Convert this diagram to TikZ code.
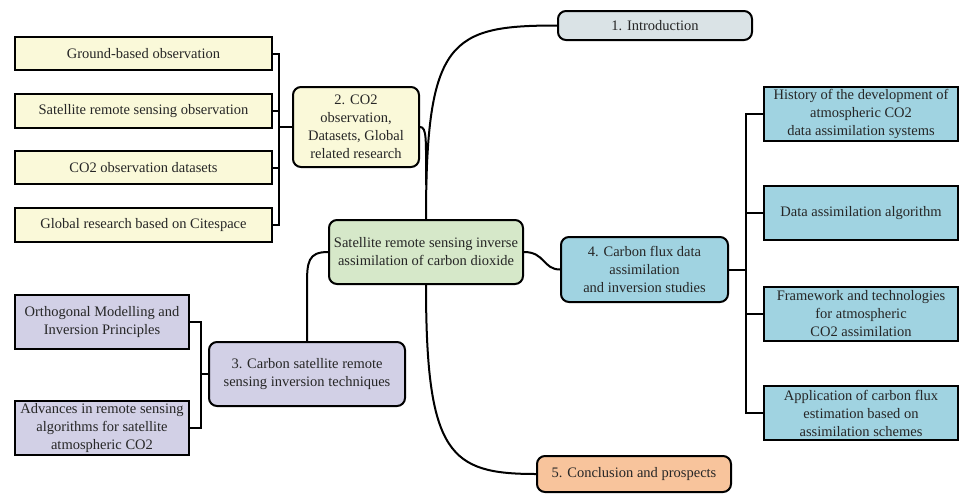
\documentclass[tikz,border=0pt]{standalone}
\usepackage{fontspec}
\setmainfont{Liberation Serif}
\begin{document}
\definecolor{introfill}{HTML}{DAE3E6}
\definecolor{yelfill}{HTML}{FAF9D9}
\definecolor{greenfill}{HTML}{D6E8C9}
\definecolor{bluefill}{HTML}{A0D3E1}
\definecolor{lavfill}{HTML}{D2D0E6}
\definecolor{peachfill}{HTML}{F8C49C}
\definecolor{inkgray}{HTML}{262626}
\begin{tikzpicture}[x=1pt,y=-1pt,
  box/.style={draw=black, line width=2pt, inner sep=0pt, align=center,
    text=inkgray, font=\fontsize{14.5}{18}\selectfont},
  topic/.style={box, rounded corners=8pt},
  leaf/.style={box},
  link/.style={draw=black, line width=2pt}]
\useasboundingbox (0,0) rectangle (959,493);

% main topic and chapter nodes
\node[topic, fill=greenfill, minimum width=194pt, minimum height=64pt] (center) at (426,252)
  {Satellite remote sensing inverse\\assimilation of carbon dioxide};
\node[topic, fill=introfill, minimum width=194pt, minimum height=29pt] (intro) at (655,25.5)
  {1. Introduction};
\node[topic, fill=yelfill, minimum width=126pt, minimum height=80pt] (obs) at (356,127)
  {2. CO2\\observation,\\Datasets, Global\\related research};
\node[topic, fill=lavfill, minimum width=196pt, minimum height=64pt] (tech) at (307,374)
  {3. Carbon satellite remote\\sensing inversion techniques};
\node[topic, fill=bluefill, minimum width=167pt, minimum height=65pt] (flux) at (644.5,269.5)
  {4. Carbon flux data\\assimilation\\and inversion studies};
\node[topic, fill=peachfill, minimum width=194pt, minimum height=36pt] (concl) at (634,474)
  {5. Conclusion and prospects};

% chapter 2 sections
\node[leaf, fill=yelfill, minimum width=257pt, minimum height=33pt] (y1) at (143.5,53.5)
  {Ground-based observation};
\node[leaf, fill=yelfill, minimum width=257pt, minimum height=34pt] (y2) at (143.5,111)
  {Satellite remote sensing observation};
\node[leaf, fill=yelfill, minimum width=257pt, minimum height=33pt] (y3) at (143.5,167.5)
  {CO2 observation datasets};
\node[leaf, fill=yelfill, minimum width=257pt, minimum height=34pt] (y4) at (143.5,225)
  {Global research based on Citespace};

% chapter 3 sections
\node[leaf, fill=lavfill, minimum width=174pt, minimum height=54pt] (p1) at (102,322)
  {Orthogonal Modelling and\\Inversion Principles};
\node[leaf, fill=lavfill, minimum width=174pt, minimum height=54pt] (p2) at (102,428)
  {Advances in remote sensing\\algorithms for satellite\\atmospheric CO2};

% chapter 4 sections
\node[leaf, fill=bluefill, minimum width=194pt, minimum height=54pt] (b1) at (861,114)
  {History of the development of\\atmospheric CO2\\data assimilation systems};
\node[leaf, fill=bluefill, minimum width=194pt, minimum height=54pt] (b2) at (861,213)
  {Data assimilation algorithm};
\node[leaf, fill=bluefill, minimum width=194pt, minimum height=54pt] (b3) at (861,314)
  {Framework and technologies\\for atmospheric\\CO2 assimilation};
\node[leaf, fill=bluefill, minimum width=194pt, minimum height=54pt] (b4) at (861,413)
  {Application of carbon flux\\estimation based on\\assimilation schemes};

% bracket junctions
\coordinate (jy) at (279,127);
\coordinate (jp) at (201,374);
\coordinate (jb) at (746,269.5);

% curved branches from the main topic
\draw[link] (center.north) .. controls (426,40) and (450,25.5) .. (intro.west);
\draw[link] (obs.east) .. controls (427,127) and (426,140) .. (426,185);
\draw[link] (center.south) .. controls (426,455) and (450,474) .. (concl.west);
\draw[link] (center.west) .. controls (308,252) and (307,262) .. (307,285) -- (tech.north);
\draw[link] (center.east) .. controls (545,252) and (543,269.5) .. (flux.west);

% brackets to the sections
\draw[link] (jy) -- (obs.west);
\foreach \n in {y1,y2,y3,y4} \draw[link] (\n.east) -| (jy);
\draw[link] (jp) -- (tech.west);
\foreach \n in {p1,p2} \draw[link] (\n.east) -| (jp);
\draw[link] (flux.east) -- (jb);
\foreach \n in {b1,b2,b3,b4} \draw[link] (jb) |- (\n.west);
\end{tikzpicture}
\end{document}
